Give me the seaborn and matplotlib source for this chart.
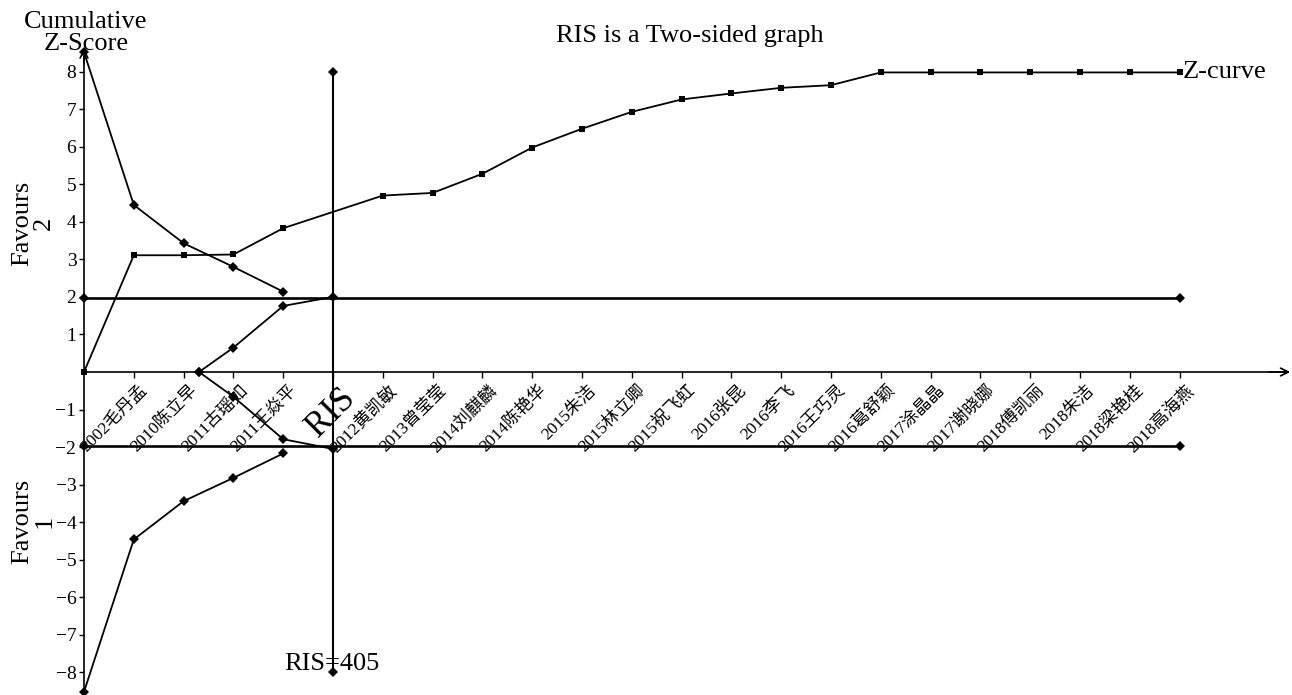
import numpy as np
import pandas as pd
import matplotlib
matplotlib.use("Agg")
import matplotlib.pyplot as plt
import matplotlib.transforms as mtransforms
import seaborn as sns

# ---- data -------------------------------------------------------------
tick_labels = ["2002毛丹孟", "2010陈立早", "2011古瑶如", "2011王焱平", "RIS",
               "2012黄凯敏", "2013曾莹莹", "2014刘麒麟", "2014陈艳华", "2015朱洁",
               "2015林立卿", "2015祝飞虹", "2016张昆", "2016李飞", "2016王巧灵",
               "2016葛舒颖", "2017涂晶晶", "2017谢晓娜", "2018傅凯丽", "2018朱洁",
               "2018梁艳桂", "2018高海燕"]
tick_pos = list(range(1, 23))

z_x = [0, 1, 2, 3, 4, 6, 7, 8, 9, 10, 11, 12, 13, 14, 15, 16, 17, 18, 19, 20, 21, 22]
z_y = [0.0, 3.11, 3.11, 3.13, 3.83, 4.70, 4.77, 5.28, 5.98, 6.48, 6.93, 7.26,
       7.42, 7.57, 7.64, 7.98, 7.98, 7.98, 7.98, 7.98, 7.98, 7.98]

mon_x = [0, 1, 2, 3, 4]
mon_upper = [8.52, 4.45, 3.43, 2.80, 2.14]
mon_lower = [-8.52, -4.46, -3.44, -2.82, -2.17]

fut_x = [2.31, 3, 4, 5]
fut_upper = [0.0, 0.65, 1.76, 2.00]
fut_lower = [0.0, -0.66, -1.79, -2.05]

conv_x = [0, 5, 22]
conv_upper = [1.96, 1.96, 1.96]
conv_lower = [-1.96, -1.96, -1.96]

ris_x = [5, 5]
ris_y = [8.0, -8.0]
ris_value = 405

y_ticks = [-8, -7, -6, -5, -4, -3, -2, -1, 1, 2, 3, 4, 5, 6, 7, 8]

# ---- style ------------------------------------------------------------
sns.set_style("white")
plt.rcParams["font.family"] = ["Liberation Serif", "Noto Sans CJK SC", "DejaVu Sans"]
plt.rcParams["axes.unicode_minus"] = True

fig = plt.figure(figsize=(12.92, 6.95), dpi=100)
ax = fig.add_axes([0, 0, 1, 1])

# data limits chosen so the origin sits near the left edge
ax.set_xlim(-84 / 49.8, (1292 - 84) / 49.8)
ax.set_ylim(-(695 - 372) / 37.54, 372 / 37.54)

black = "black"
line_kw = dict(ax=ax, color=black, markeredgewidth=0, estimator=None, sort=False)

# Z-curve
sns.lineplot(x=z_x, y=z_y, marker="s", markersize=4.3, linewidth=1.3, **line_kw)

# monitoring boundaries
for yy in (mon_upper, mon_lower):
    sns.lineplot(x=mon_x, y=yy, marker="D", markersize=5.3, linewidth=1.3, **line_kw)

# futility boundaries
for yy in (fut_upper, fut_lower):
    sns.lineplot(x=fut_x, y=yy, marker="D", markersize=5.3, linewidth=1.3, **line_kw)

# conventional boundaries at +/-1.96
for yy in (conv_upper, conv_lower):
    sns.lineplot(x=conv_x, y=yy, marker="D", markersize=5.3, markevery=[0, 2],
                 linewidth=1.9, **line_kw)

# required information size
sns.lineplot(x=ris_x, y=ris_y, marker="D", markersize=5.3, linewidth=1.5, **line_kw)

ax.set_xlabel("")
ax.set_ylabel("")

# ---- axes through the origin -------------------------------------------
for side in ("top", "right"):
    ax.spines[side].set_visible(False)
ax.spines["left"].set_position(("data", 0))
ax.spines["bottom"].set_position(("data", 0))
ax.spines["left"].set_bounds(-8.6, 8.55)
ax.spines["bottom"].set_bounds(0, 24.15)
for side in ("left", "bottom"):
    ax.spines[side].set_linewidth(1.2)
    ax.spines[side].set_color(black)

ax.annotate("", xy=(0, 8.62), xytext=(0, 8.2),
            arrowprops=dict(arrowstyle="->", lw=1.2, color=black,
                            mutation_scale=14, shrinkA=0, shrinkB=0))
ax.annotate("", xy=(24.22, 0), xytext=(23.8, 0),
            arrowprops=dict(arrowstyle="->", lw=1.2, color=black,
                            mutation_scale=14, shrinkA=0, shrinkB=0))

ax.set_yticks(y_ticks)
ax.set_yticklabels([f"{v}".replace("-", "\u2212") for v in y_ticks])
ax.tick_params(axis="y", direction="out", length=3.5, width=1, pad=2,
               labelsize=14, left=True, colors=black)

ax.set_xticks(tick_pos)
ax.set_xticklabels(tick_labels, rotation=45, ha="right", va="top",
                   rotation_mode="anchor")
ax.tick_params(axis="x", direction="out", length=4, width=1, pad=2,
               labelsize=12.5, bottom=True, colors=black)
shift = mtransforms.ScaledTranslation(6 / 100, -2 / 100, fig.dpi_scale_trans)
for lab in ax.get_xticklabels():
    lab.set_transform(lab.get_transform() + shift)
    if lab.get_text() == "RIS":
        lab.set_fontsize(25)

# ---- text ---------------------------------------------------------------
ax.text(12.17, 8.79, "RIS is a Two-sided graph", ha="center", va="baseline",
        fontsize=19, color=black)
ax.text(0.04, 9.02, "Cumulative\nZ-Score", ha="center", va="center",
        fontsize=19, linespacing=1.0, color=black)
ax.text(-1.02, 3.97, "Favours\n2", rotation=90, ha="center", va="center",
        multialignment="center", fontsize=19, linespacing=1.0, color=black)
ax.text(-1.02, -3.98, "Favours\n1", rotation=90, ha="center", va="center",
        multialignment="center", fontsize=19, linespacing=1.0, color=black)
ax.text(z_x[-1] + 0.06, z_y[-1], "Z-curve", ha="left", va="center",
        fontsize=19, color=black)
ax.text(ris_x[0] - 0.03, -7.94, f"RIS={ris_value}", ha="center", va="baseline",
        fontsize=19, color=black)

fig.savefig("out.png", dpi=100, facecolor="white")
